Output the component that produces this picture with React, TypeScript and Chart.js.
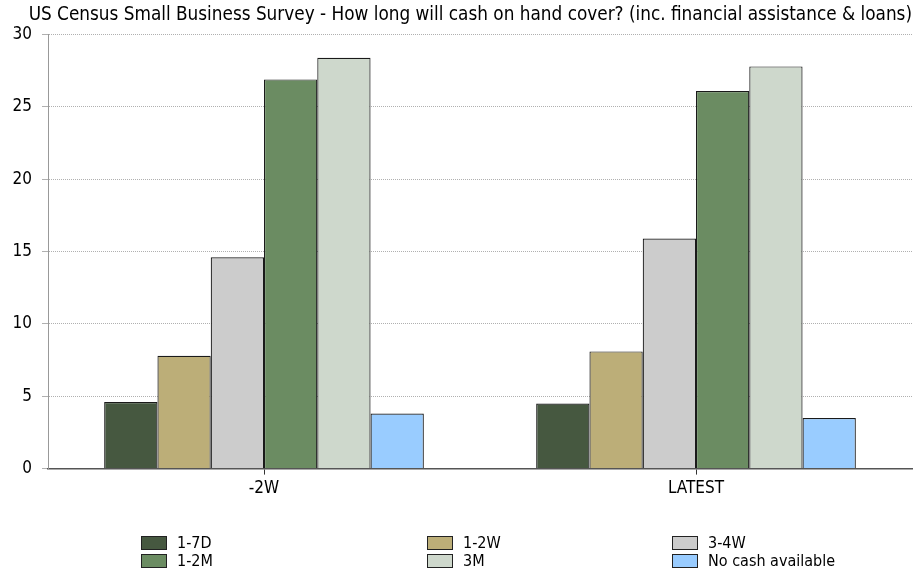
import React, { useEffect, useRef } from "react";
import { Chart, registerables } from "chart.js";

Chart.register(...registerables);

const TITLE = "US Census Small Business Survey - How long will cash on hand cover? (inc. financial assistance & loans)";
const categories = ["-2W", "LATEST"];
const seriesNames = ["1-7D", "1-2W", "3-4W", "1-2M", "3M", "No cash available"];
const seriesColors = ["#465840", "#BCAE78", "#CCCCCC", "#6B8C62", "#CED8CC", "#99CCFF"];
const values_1_7D = [4.6, 4.5];
const values_1_2W = [7.8, 8.1];
const values_3_4W = [14.6, 15.9];
const values_1_2M = [26.9, 26.1];
const values_3M = [28.4, 27.8];
const values_noCash = [3.8, 3.5];
const seriesValues = [values_1_7D, values_1_2W, values_3_4W, values_1_2M, values_3M, values_noCash];
const yTicks = [0, 5, 10, 15, 20, 25, 30];

const FONT = "'DejaVu Sans Condensed', 'DejaVu Sans', sans-serif";

export default function App() {
  const ref = useRef<HTMLCanvasElement>(null);
  useEffect(() => {
    document.body.style.margin = "0";
    const ctx = ref.current!;
    const chart = new Chart(ctx, {
      type: "bar",
      data: {
        labels: categories,
        datasets: seriesNames.map((n, i) => ({
          label: n,
          data: seriesValues[i],
          backgroundColor: seriesColors[i],
          borderColor: "#1a1a1a",
          borderWidth: 1.2,
          categoryPercentage: 0.74,
          barPercentage: 1.0,
        })),
      },
      options: {
        animation: false,
        responsive: false,
        maintainAspectRatio: false,
        layout: { padding: { left: 0, right: 5, top: 0, bottom: 73 } },
        plugins: {
          legend: { display: false },
          tooltip: { enabled: false },
          title: {
            display: true,
            text: TITLE,
            color: "#000",
            font: { family: FONT, size: 18.8, weight: "normal" },
            padding: { top: 4, bottom: 8 },
            align: "end",
          },
        },
        scales: {
          x: {
            grid: {
              display: true,
              drawOnChartArea: false,
              drawTicks: true,
              tickLength: 6,
              color: "#333",
              offset: false,
            },
            border: { display: true, color: "#555", width: 1.5 },
            ticks: { color: "#000", font: { family: FONT, size: 17 }, padding: 4 },
          },
          y: {
            min: 0,
            max: 30,
            afterBuildTicks: (s: any) => {
              s.ticks = yTicks.map((v) => ({ value: v }));
            },
            afterFit: (s: any) => {
              s.width = 48;
            },
            grid: {
              color: "#b0b0b0",
              lineWidth: 1,
              tickLength: 6,
              drawTicks: true,
            },
            border: { display: true, color: "#999", width: 1, dash: [1, 1] },
            ticks: { color: "#000", font: { family: FONT, size: 17 }, padding: 10 },
          },
        },
      },
    });
    return () => chart.destroy();
  }, []);

  const legendCols = [141, 427, 672];
  return (
    <div style={{ position: "relative", width: 917, height: 576, fontFamily: FONT }}>
      <canvas ref={ref} width={917} height={576} style={{ display: "block" }} />
      {seriesNames.map((n, i) => {
        const col = i % 3;
        const row = Math.floor(i / 3);
        return (
          <div
            key={n}
            style={{
              position: "absolute",
              left: legendCols[col],
              top: 534 + row * 18,
              display: "flex",
              alignItems: "center",
              fontSize: 16,
              color: "#000",
              lineHeight: "18px",
            }}
          >
            <span
              style={{
                display: "inline-block",
                width: 24,
                height: 12,
                background: seriesColors[i],
                border: "1px solid #222",
                marginRight: 10,
              }}
            />
            {n}
          </div>
        );
      })}
    </div>
  );
}
